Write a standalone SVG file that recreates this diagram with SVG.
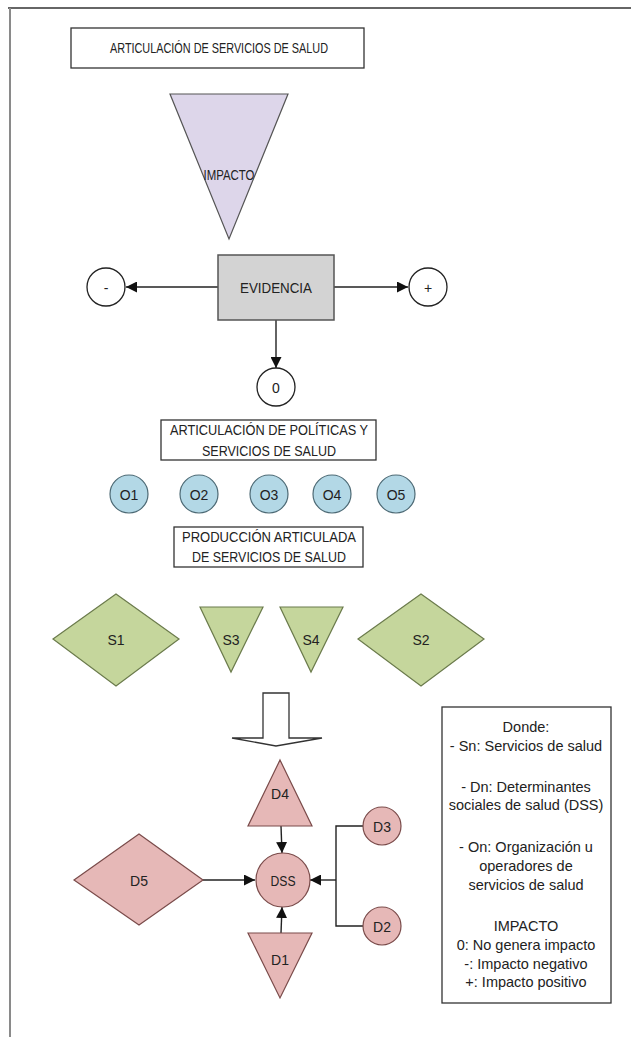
<svg xmlns="http://www.w3.org/2000/svg" width="631" height="1037" viewBox="0 0 631 1037">
<style>
text{font-family:"Liberation Sans",Arial,sans-serif;font-size:14px;fill:#222;text-anchor:middle;dominant-baseline:central}
.box{fill:#fff;stroke:#333;stroke-width:1.3}
.lavender{fill:#ddd6ea;stroke:#555;stroke-width:1.2}
.gray{fill:#d3d3d3;stroke:#555;stroke-width:1.5}
.wc{fill:#fff;stroke:#222;stroke-width:1.3}
.blue{fill:#b3d8e6;stroke:#4d6a75;stroke-width:1.2}
.green{fill:#c5d69c;stroke:#6b7b4c;stroke-width:1.2}
.pink{fill:#e6b8b7;stroke:#7a4b4a;stroke-width:1.2}
.conn{fill:none;stroke:#222;stroke-width:1.4}
.leg{font-size:14.5px}
</style>
<defs>
<marker id="ah2" viewBox="0 0 10 10" refX="10" refY="5" markerWidth="11" markerHeight="11" orient="auto" markerUnits="userSpaceOnUse">
<path d="M0,0 L10,5 L0,10 z" fill="#111"/>
</marker>
</defs>
<rect width="631" height="1037" fill="#fff"/>
<g id="frame">
<line x1="8" y1="8" x2="631" y2="8" stroke="#666" stroke-width="2"/>
<line x1="10" y1="8" x2="10" y2="1037" stroke="#8a8a8a" stroke-width="2"/>
</g>
<g id="connectors">
<line class="conn" x1="218" y1="287" x2="126" y2="287" marker-end="url(#ah2)"/>
<line class="conn" x1="334" y1="287" x2="408" y2="287" marker-end="url(#ah2)"/>
<line class="conn" x1="276" y1="320" x2="276" y2="368" marker-end="url(#ah2)"/>
<line class="conn" x1="281" y1="826" x2="282" y2="853" marker-end="url(#ah2)"/>
<line class="conn" x1="281" y1="933" x2="282" y2="907" marker-end="url(#ah2)"/>
<line class="conn" x1="203" y1="880" x2="255" y2="880" marker-end="url(#ah2)"/>
<polyline class="conn" points="363,826 336,826 336,926 363,926"/>
<line class="conn" x1="336" y1="880" x2="310" y2="880" marker-end="url(#ah2)"/>
</g>
<g id="title"><rect class="box" x="71" y="28" width="293" height="40"/><text x="219" y="48" textLength="218" lengthAdjust="spacingAndGlyphs">ARTICULACIÓN DE SERVICIOS DE SALUD</text></g>
<g id="impacto"><polygon class="lavender" points="170,94 288,94 229,239"/><text x="229" y="175" textLength="51" lengthAdjust="spacingAndGlyphs">IMPACTO</text></g>
<g id="evidencia"><rect class="gray" x="218" y="255" width="116" height="65"/><text x="276" y="288" textLength="72" lengthAdjust="spacingAndGlyphs">EVIDENCIA</text></g>
<g id="neg"><circle class="wc" cx="106" cy="287" r="19"/><text x="106" y="288">-</text></g>
<g id="pos"><circle class="wc" cx="428" cy="287" r="19"/><text x="428" y="288">+</text></g>
<g id="zero"><circle class="wc" cx="276" cy="387" r="19"/><text x="276" y="388">0</text></g>
<g id="politicas"><rect class="box" x="161" y="420" width="215" height="40"/><text x="269" y="430" textLength="198" lengthAdjust="spacingAndGlyphs">ARTICULACIÓN DE POLÍTICAS Y</text><text x="269" y="451" textLength="134" lengthAdjust="spacingAndGlyphs">SERVICIOS DE SALUD</text></g>
<g id="O1"><circle class="blue" cx="129" cy="494" r="19"/><text x="129" y="495">O1</text></g>
<g id="O2"><circle class="blue" cx="199" cy="494" r="19"/><text x="199" y="495">O2</text></g>
<g id="O3"><circle class="blue" cx="269" cy="494" r="19"/><text x="269" y="495">O3</text></g>
<g id="O4"><circle class="blue" cx="332" cy="494" r="19"/><text x="332" y="495">O4</text></g>
<g id="O5"><circle class="blue" cx="396" cy="494" r="19"/><text x="396" y="495">O5</text></g>
<g id="produccion"><rect class="box" x="174" y="527" width="189" height="40"/><text x="269" y="537" textLength="174" lengthAdjust="spacingAndGlyphs">PRODUCCIÓN ARTICULADA</text><text x="269" y="557" textLength="154" lengthAdjust="spacingAndGlyphs">DE SERVICIOS DE SALUD</text></g>
<g id="S1"><polygon class="green" points="53,639 116,594 179,639 116,686"/><text x="116" y="640">S1</text></g>
<g id="S3"><polygon class="green" points="200,607 263,607 231,672"/><text x="231" y="640">S3</text></g>
<g id="S4"><polygon class="green" points="280,607 343,607 311,672"/><text x="311" y="640">S4</text></g>
<g id="S2"><polygon class="green" points="358,639 421,594 484,639 421,686"/><text x="421" y="640">S2</text></g>
<g id="bigarrow"><polygon points="263,693 289,693 289,738 322,738 276,746 232,738 263,738" fill="#fff" stroke="#333" stroke-width="1.3"/></g>
<g id="D4"><polygon class="pink" points="280,760 312,826 248,826"/><text x="280" y="794">D4</text></g>
<g id="DSS"><circle class="pink" cx="283" cy="880" r="27"/><text x="283" y="881" textLength="25" lengthAdjust="spacingAndGlyphs">DSS</text></g>
<g id="D5"><polygon class="pink" points="74,880 139,834 203,880 139,925"/><text x="139" y="881">D5</text></g>
<g id="D1"><polygon class="pink" points="248,933 312,933 280,998"/><text x="280" y="960">D1</text></g>
<g id="D3"><circle class="pink" cx="382" cy="826" r="19"/><text x="382" y="827">D3</text></g>
<g id="D2"><circle class="pink" cx="382" cy="926" r="19"/><text x="382" y="927">D2</text></g>
<g id="legend"><rect class="box" x="442" y="707" width="169" height="296"/>
<text class="leg" x="526" y="727">Donde:</text>
<text class="leg" x="526" y="746">- Sn: Servicios de salud</text>
<text class="leg" x="526" y="787">- Dn: Determinantes</text>
<text class="leg" x="526" y="805">sociales de salud (DSS)</text>
<text class="leg" x="526" y="847">- On: Organización u</text>
<text class="leg" x="526" y="866">operadores de</text>
<text class="leg" x="526" y="885">servicios de salud</text>
<text class="leg" x="526" y="926">IMPACTO</text>
<text class="leg" x="526" y="945">0: No genera impacto</text>
<text class="leg" x="526" y="964">-: Impacto negativo</text>
<text class="leg" x="526" y="982">+: Impacto positivo</text>
</g>
</svg>
